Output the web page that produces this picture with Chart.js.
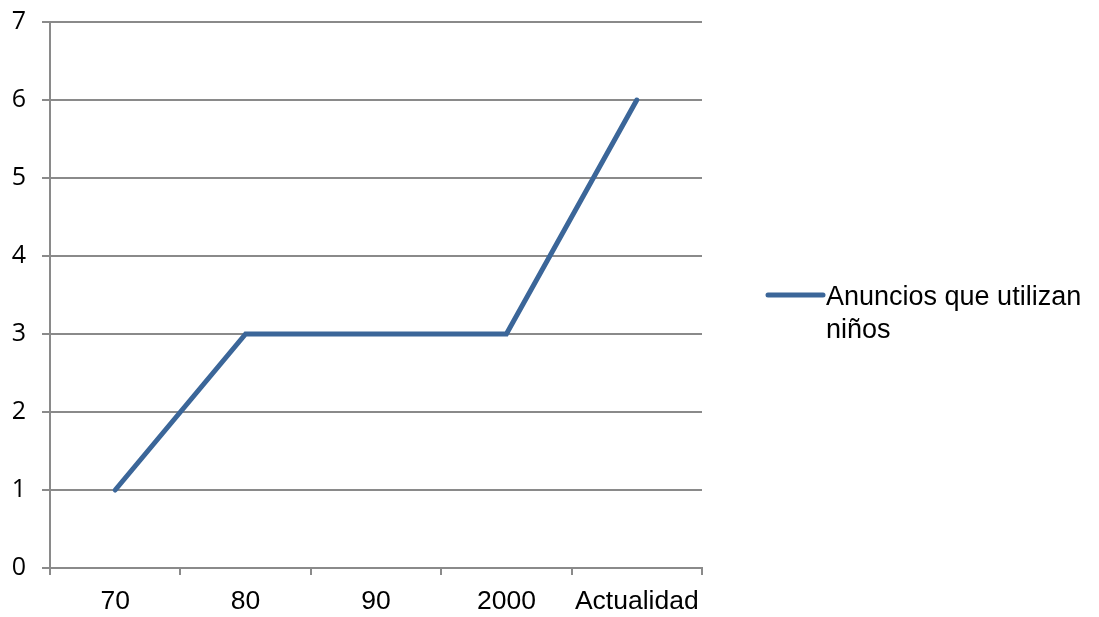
<!DOCTYPE html>
<html lang="es">
<head>
<meta charset="utf-8">
<title>Anuncios que utilizan niños</title>
<script src="https://cdn.jsdelivr.net/npm/chart.js@4/dist/chart.umd.min.js"></script>
<style>
  html, body { margin: 0; padding: 0; background: #ffffff; }
  #wrap { width: 1099px; height: 617px; position: relative; }
</style>
</head>
<body>
<div id="wrap"><canvas id="chart-anuncios"></canvas></div>
<script>
// Series data
const categories = ["70", "80", "90", "2000", "Actualidad"];
const anunciosNinos = [1, 3, 3, 3, 6];
const seriesLabel = "Anuncios que utilizan niños";
const yTicks = [0, 1, 2, 3, 4, 5, 6, 7];

const LINE_COLOR = "#3b6699";
const GRID_COLOR = "#8a8a8a";

// Legend drawn at the right of the plot, text wrapped to the free width
const sideLegend = {
  id: "sideLegend",
  afterDraw(chart) {
    const { ctx, chartArea } = chart;
    const ds = chart.data.datasets[0];
    const lineStart = chartArea.right + 66;
    const lineEnd = lineStart + 55;
    const textX = lineEnd + 3;
    const midY = (chartArea.top + chartArea.bottom) / 2;

    ctx.save();
    ctx.font = "27px 'Liberation Sans', Arial, sans-serif";
    const maxW = chart.width - textX - 4;
    const words = ds.label.split(" ");
    const lines = [];
    let cur = "";
    words.forEach(w => {
      const test = cur ? cur + " " + w : w;
      if (ctx.measureText(test).width > maxW && cur) {
        lines.push(cur);
        cur = w;
      } else {
        cur = test;
      }
    });
    if (cur) lines.push(cur);

    ctx.strokeStyle = ds.borderColor;
    ctx.lineWidth = 5;
    ctx.lineCap = "round";
    ctx.beginPath();
    ctx.moveTo(lineStart, midY);
    ctx.lineTo(lineEnd, midY);
    ctx.stroke();

    ctx.fillStyle = "#000000";
    ctx.textBaseline = "alphabetic";
    ctx.textAlign = "left";
    lines.forEach((ln, i) => {
      ctx.fillText(ln, textX, midY + 10 + i * 33);
    });
    ctx.restore();
  }
};

new Chart(document.getElementById("chart-anuncios"), {
  type: "line",
  data: {
    labels: categories,
    datasets: [{
      label: seriesLabel,
      data: anunciosNinos,
      borderColor: LINE_COLOR,
      backgroundColor: LINE_COLOR,
      borderWidth: 5,
      borderCapStyle: "round",
      borderJoinStyle: "miter",
      pointRadius: 0,
      pointHoverRadius: 0,
      tension: 0
    }]
  },
  options: {
    responsive: true,
    maintainAspectRatio: false,
    animation: false,
    devicePixelRatio: 1,
    layout: { padding: { top: 22, right: 397, left: 0, bottom: 0 } },
    plugins: {
      legend: { display: false },
      tooltip: { enabled: false }
    },
    scales: {
      x: {
        type: "category",
        offset: true,
        afterFit(scale) { scale.height = 49; },
        grid: {
          offset: true,
          drawOnChartArea: false,
          drawTicks: true,
          tickLength: 7,
          color: GRID_COLOR,
          lineWidth: 2
        },
        border: { display: true, color: GRID_COLOR, width: 2 },
        ticks: {
          color: "#000000",
          padding: 11,
          maxRotation: 0,
          font: { family: "'Liberation Sans', Arial, sans-serif", size: 26.5 }
        }
      },
      y: {
        min: 0,
        max: 7,
        // fixed axis width; label overflow is covered by the layout padding
        afterFit(scale) {
          scale.width = 50;
          scale.paddingTop = 0;
          scale.paddingBottom = 0;
        },
        afterBuildTicks(scale) { scale.ticks = yTicks.map(v => ({ value: v })); },
        grid: {
          color: GRID_COLOR,
          lineWidth: 2,
          tickLength: 8
        },
        border: { display: true, color: GRID_COLOR, width: 2 },
        ticks: {
          color: "#000000",
          padding: 16,
          font: { family: "'Open Sans', sans-serif", size: 25 }
        }
      }
    }
  },
  plugins: [sideLegend]
});
</script>
</body>
</html>
